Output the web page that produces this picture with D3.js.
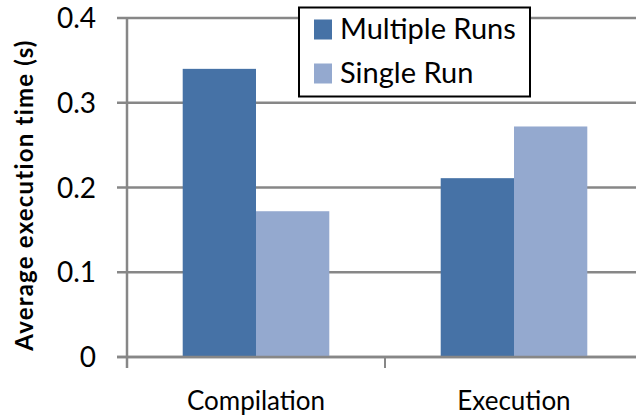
<!DOCTYPE html>
<html><head><meta charset="utf-8">
<script src="https://cdn.jsdelivr.net/npm/d3@7"></script>
<style>html,body{margin:0;padding:0;background:#fff;}svg{display:block;}</style>
</head><body>
<svg id="chart" width="636" height="418"></svg>
<script>
const categories = ["Compilation", "Execution"];
const seriesNames = ["Multiple Runs", "Single Run"];
const multipleRuns = [0.340, 0.211];
const singleRun = [0.172, 0.272];
const yTicks = [0, 0.1, 0.2, 0.3, 0.4];
const colors = ["#4672A6", "#94A9CF"];

(function () {
const values = [multipleRuns, singleRun];
const FONT = "Lato, 'Open Sans', sans-serif";
const svg = d3.select("#chart");
const pLeft = 127, pRight = 643, pTop = 18, pBottom = 357;

const y = d3.scaleLinear().domain([0, 0.4]).range([pBottom, pTop]);
const x0 = d3.scaleBand().domain(categories).range([pLeft, pRight]).paddingInner(0).paddingOuter(0);
const x1 = d3.scaleBand().domain(seriesNames).range([0, x0.bandwidth()]).paddingInner(0).paddingOuter(0.76);

// gridlines
svg.append("g").selectAll("line").data(yTicks).join("line")
  .attr("x1", pLeft - 10).attr("x2", 636)
  .attr("y1", d => y(d)).attr("y2", d => y(d))
  .attr("stroke", "#878787").attr("stroke-width", 2.5);

// bars
const g = svg.append("g");
categories.forEach((c, ci) => {
  seriesNames.forEach((s, si) => {
    g.append("rect")
      .attr("x", x0(c) + x1(s))
      .attr("y", y(values[si][ci]))
      .attr("width", x1.bandwidth())
      .attr("height", y(0) - y(values[si][ci]))
      .attr("fill", colors[si]);
  });
});

// x axis baseline and ticks
svg.append("line").attr("x1", pLeft - 10).attr("x2", 636).attr("y1", y(0)).attr("y2", y(0))
  .attr("stroke", "#878787").attr("stroke-width", 2.5);
const xTickPos = [pLeft, ...categories.slice(1).map(c => x0(c))];
svg.append("g").selectAll("line").data(xTickPos).join("line")
  .attr("x1", d => d).attr("x2", d => d).attr("y1", y(0)).attr("y2", y(0) + 11)
  .attr("stroke", "#878787").attr("stroke-width", 2);
// y axis line
svg.append("line").attr("x1", pLeft).attr("x2", pLeft).attr("y1", pTop).attr("y2", y(0) + 11)
  .attr("stroke", "#878787").attr("stroke-width", 2.5);

// y tick labels
svg.append("g").selectAll("text").data(yTicks).join("text")
  .attr("x", 96).attr("y", d => y(d)).attr("dy", "0.36em")
  .attr("text-anchor", "end").attr("font-family", FONT).attr("font-size", 28)
  .attr("fill", "#000").text(d => d === 0 ? "0" : d3.format(".1f")(d));

// x category labels
svg.append("g").selectAll("text").data(categories).join("text")
  .attr("x", d => x0(d) + x0.bandwidth() / 2).attr("y", 410)
  .attr("text-anchor", "middle").attr("font-family", FONT).attr("font-size", 26)
  .attr("fill", "#000").text(d => d);

// y title
svg.append("text").attr("transform", "translate(33,195) rotate(-90)")
  .attr("text-anchor", "middle").attr("font-family", FONT).attr("font-weight", "bold")
  .attr("font-size", 24).attr("letter-spacing", 1.2).attr("fill", "#000")
  .text("Average execution time (s)");

// legend
const lg = svg.append("g");
lg.append("rect").attr("x", 299).attr("y", 7.5).attr("width", 231).attr("height", 89)
  .attr("fill", "#fff").attr("stroke", "#000").attr("stroke-width", 2);
seriesNames.forEach((s, i) => {
  lg.append("rect").attr("x", 314).attr("y", 19.5 + i * 44).attr("width", 18).attr("height", 20)
    .attr("fill", colors[i]);
  lg.append("text").attr("x", 340).attr("y", 39 + i * 44)
    .attr("font-family", FONT).attr("font-size", 29).attr("fill", "#000").text(s);
});
})();
</script>
</body></html>
